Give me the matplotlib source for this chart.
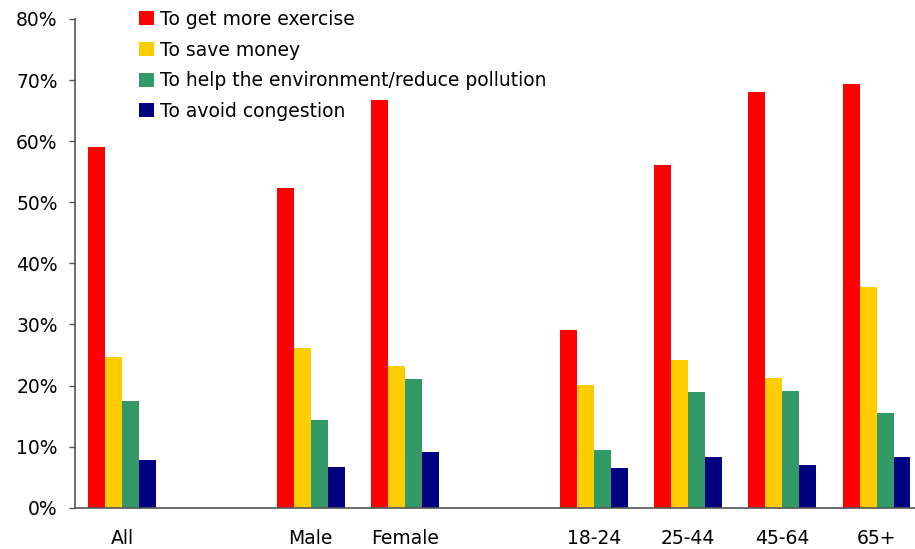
import matplotlib
matplotlib.use("Agg")
import matplotlib.pyplot as plt
import numpy as np

plt.rcParams['font.family'] = ['DejaVu Sans']

# category labels and their slot positions (empty slots between groups)
categories = ["All", "Male", "Female", "18-24", "25-44", "45-64", "65+"]
slots = [0, 2, 3, 5, 6, 7, 8]

series_names = ["To get more exercise", "To save money",
                "To help the environment/reduce pollution", "To avoid congestion"]
exercise = [59.1, 52.4, 66.7, 29.1, 56.1, 68.1, 69.3]
money = [24.7, 26.2, 23.2, 20.1, 24.2, 21.3, 36.2]
environment = [17.5, 14.4, 21.1, 9.4, 19.0, 19.1, 15.5]
congestion = [7.8, 6.7, 9.1, 6.5, 8.3, 7.0, 8.3]
colors = ["#FF0000", "#FFCC00", "#339966", "#000080"]

fig = plt.figure(figsize=(9.15, 5.49), dpi=100)
ax = fig.add_axes([0.082, 0.0752, 0.9275, 0.8902])

width = 0.18
x = np.array(slots)
for i, (vals, name) in enumerate(zip([exercise, money, environment, congestion], series_names)):
    ax.bar(x + (i - 1.5) * width, vals, width, color=colors[i], label=name, linewidth=0)

ax.set_xlim(-0.5, 8.5)
ax.set_ylim(0, 80)
ax.set_yticks(range(0, 81, 10))
ax.set_yticklabels([f"{v}%" for v in range(0, 81, 10)])
ax.set_xticks(slots)
ax.set_xticklabels(categories)

for s in ["top", "right"]:
    ax.spines[s].set_visible(False)
for s in ["left", "bottom"]:
    ax.spines[s].set_color("#555555")
    ax.spines[s].set_linewidth(1.2)
ax.tick_params(axis="y", length=4.5, width=1, color="#555555", pad=8, labelsize=13.5)
ax.tick_params(axis="x", length=0, pad=15, labelsize=13.5)

ax.legend(loc="upper left", bbox_to_anchor=(0.142, 0.999), bbox_transform=fig.transFigure,
          frameon=False, fontsize=13.5, handlelength=0.78, handleheight=0.78,
          handletextpad=0.32, labelspacing=0.62, borderpad=0)

fig.savefig("out.png", dpi=100)
